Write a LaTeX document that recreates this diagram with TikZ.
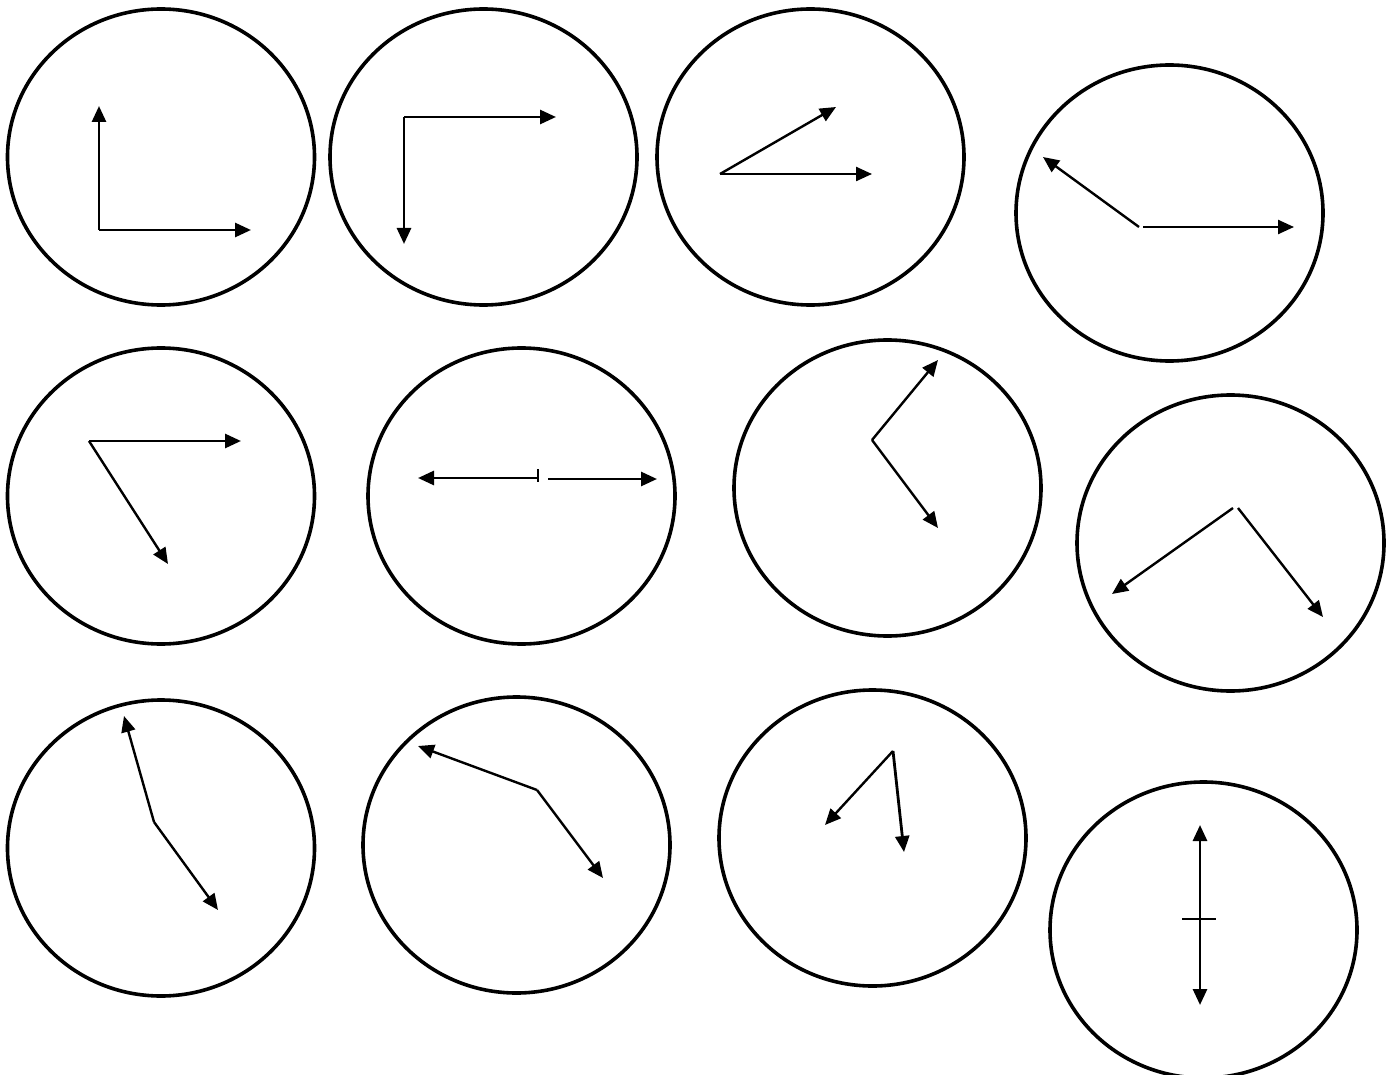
\documentclass[tikz,border=0pt]{standalone}
\usetikzlibrary{arrows.meta}
\tikzset{
  face/.style={draw=black, line width=3.6pt},
  hand/.style={draw=black, line width=2.8pt, -{Triangle[length=16pt,width=14pt]}},
  thinhand/.style={draw=black, line width=2.4pt, -{Triangle[length=16pt,width=14pt]}},
  tick/.style={draw=black, line width=1.8pt}
}
\begin{document}
\begin{tikzpicture}[x=1pt,y=-1pt]
\useasboundingbox (0,0) rectangle (1397,1075);
% faces
\draw[face] (161,157) ellipse [x radius=153.5pt, y radius=148pt];
\draw[face] (483.5,157) ellipse [x radius=153.5pt, y radius=148pt];
\draw[face] (810.5,157) ellipse [x radius=153.5pt, y radius=148pt];
\draw[face] (1169.5,213) ellipse [x radius=153.5pt, y radius=148pt];
\draw[face] (161,496) ellipse [x radius=153.5pt, y radius=148pt];
\draw[face] (521.5,496) ellipse [x radius=153.5pt, y radius=148pt];
\draw[face] (887.5,488) ellipse [x radius=153.5pt, y radius=148pt];
\draw[face] (1230.5,543) ellipse [x radius=153.5pt, y radius=148pt];
\draw[face] (161,848) ellipse [x radius=153.5pt, y radius=148pt];
\draw[face] (516.5,845) ellipse [x radius=153.5pt, y radius=148pt];
\draw[face] (872.5,838) ellipse [x radius=153.5pt, y radius=148pt];
\draw[face] (1203.5,930) ellipse [x radius=153.5pt, y radius=148pt];
% clock 1
\coordinate (o1) at (99,230);
\coordinate (a1) at (99,106);
\coordinate (b1) at (251,230);
\draw[hand] (o1) -- (a1);
\draw[hand] (o1) -- (b1);
% clock 2
\coordinate (o2) at (404,117);
\coordinate (a2) at (556,117);
\coordinate (b2) at (404,244);
\draw[hand] (o2) -- (a2);
\draw[hand] (o2) -- (b2);
% clock 3
\coordinate (o3) at (720,174);
\coordinate (a3) at (836,107);
\coordinate (b3) at (872,174);
\draw[thinhand] (o3) -- (a3);
\draw[thinhand] (o3) -- (b3);
% clock 4
\coordinate (o4a) at (1139,227);
\coordinate (a4) at (1043,157);
\coordinate (o4b) at (1143,227);
\coordinate (b4) at (1294,227);
\draw[thinhand] (o4a) -- (a4);
\draw[thinhand] (o4b) -- (b4);
% clock 5
\coordinate (o5) at (89,441);
\coordinate (a5) at (241,441);
\coordinate (b5) at (168,564);
\draw[hand] (o5) -- (a5);
\draw[thinhand] (o5) -- (b5);
% clock 6
\coordinate (o6a) at (538,478);
\coordinate (a6) at (418,478);
\coordinate (o6b) at (548,479);
\coordinate (b6) at (657,479);
\coordinate (t6a) at (538,469);
\coordinate (t6b) at (538,482);
\draw[hand] (o6a) -- (a6);
\draw[hand] (o6b) -- (b6);
\draw[tick] (t6a) -- (t6b);
% clock 7
\coordinate (o7) at (872,440);
\coordinate (a7) at (938,360);
\coordinate (b7) at (938,528);
\draw[thinhand] (o7) -- (a7);
\draw[thinhand] (o7) -- (b7);
% clock 8
\coordinate (o8a) at (1233,508);
\coordinate (a8) at (1112,594);
\coordinate (o8b) at (1238,508);
\coordinate (b8) at (1323,617);
\draw[thinhand] (o8a) -- (a8);
\draw[thinhand] (o8b) -- (b8);
% clock 9
\coordinate (o9) at (154,822);
\coordinate (a9) at (124,716);
\coordinate (b9) at (218,910);
\draw[thinhand] (o9) -- (a9);
\draw[thinhand] (o9) -- (b9);
% clock 10
\coordinate (o10) at (537,790);
\coordinate (a10) at (418,746);
\coordinate (b10) at (603,878);
\draw[thinhand] (o10) -- (a10);
\draw[thinhand] (o10) -- (b10);
% clock 11
\coordinate (o11) at (893,751);
\coordinate (a11) at (825,825);
\coordinate (b11) at (904,852);
\draw[thinhand] (o11) -- (a11);
\draw[hand] (o11) -- (b11);
% clock 12
\coordinate (o12) at (1200,920);
\coordinate (a12) at (1200,825);
\coordinate (b12) at (1200,1005);
\coordinate (t12a) at (1182,919);
\coordinate (t12b) at (1216,919);
\draw[hand] (o12) -- (a12);
\draw[hand] (o12) -- (b12);
\draw[tick] (t12a) -- (t12b);
\end{tikzpicture}
\end{document}
